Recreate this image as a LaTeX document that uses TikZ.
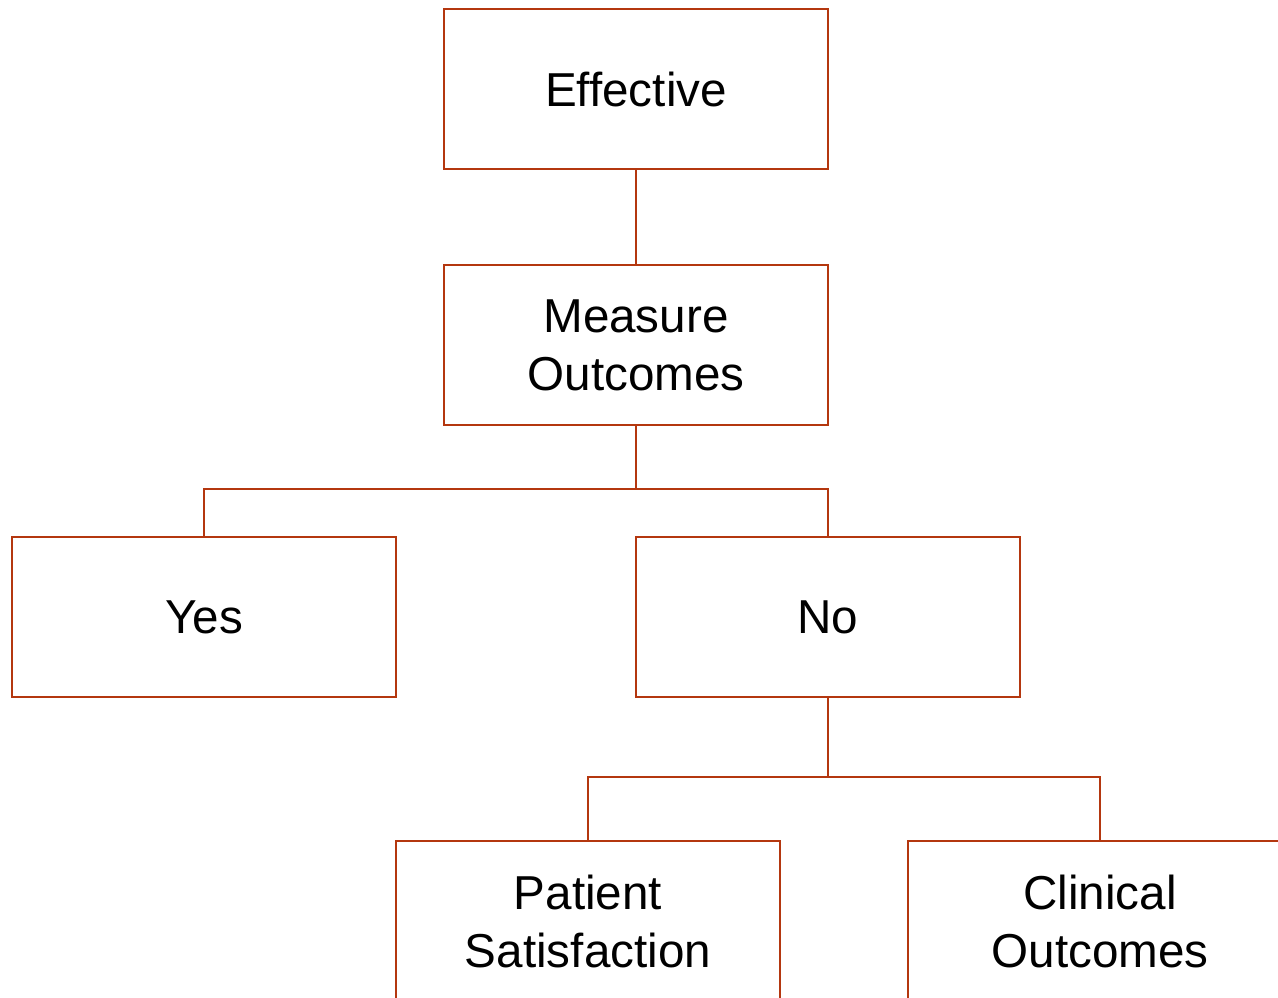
\documentclass[tikz,border=0pt]{standalone}
\usepackage{fontspec}
\setmainfont{Liberation Sans}
\definecolor{rust}{RGB}{180,55,15}
\begin{document}
\begin{tikzpicture}[x=1pt,y=-1pt,
  box/.style={draw=rust,line width=2.8pt,minimum width=384pt,minimum height=160pt,
    align=center,inner sep=0pt,font=\fontsize{47.6}{58}\selectfont,text=black},
  conn/.style={draw=rust,line width=2.8pt}]
\useasboundingbox (0,0) rectangle (1278,997);
\clip (0,0) rectangle (1278,997);
\node[box] (eff) at (636,89) {\raisebox{-2pt}{Effective}};
\node[box] (mo) at (636,345) {Measure\\Outcomes};
\node[box] (yes) at (204,617) {\raisebox{-2pt}{Yes}};
\node[box] (no) at (828,617) {\raisebox{-2pt}{No}};
\node[box] (ps) at (588,921) {Patient\\Satisfaction};
\node[box] (co) at (1100,921) {Clinical\\Outcomes};
\coordinate (j1) at (636,489);
\coordinate (j2) at (828,777);
\draw[conn] (eff.south) -- (mo.north);
\draw[conn] (mo.south) -- (j1);
\draw[conn] (yes.north) |- (j1) -| (no.north);
\draw[conn] (no.south) -- (j2);
\draw[conn] (ps.north) |- (j2) -| (co.north);
\end{tikzpicture}
\end{document}
